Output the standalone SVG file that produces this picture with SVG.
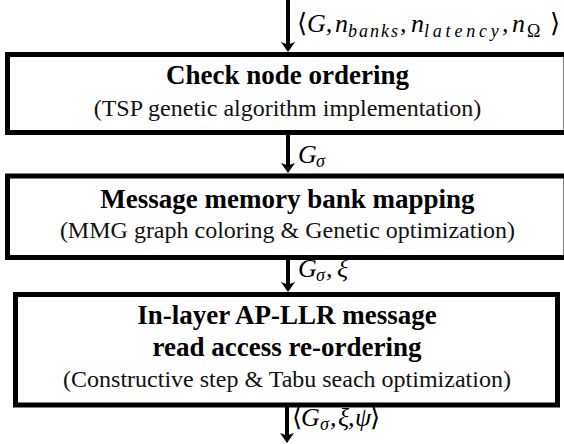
<svg xmlns="http://www.w3.org/2000/svg" width="564" height="444" viewBox="0 0 564 444">
  <style>
    .box { fill: #ffffff; stroke: #000000; stroke-width: 5; }
    .title { font-family: "Liberation Serif", "Times New Roman", "DejaVu Serif", serif; font-size: 27px; font-weight: bold; text-anchor: middle; fill: #000000; }
    .note { font-family: "Liberation Serif", "Times New Roman", "DejaVu Serif", serif; font-size: 24px; text-anchor: middle; fill: #111111; }
    .math { font-family: "Liberation Serif", "DejaVu Serif", serif; font-size: 26px; font-style: italic; fill: #000000; }
    .sub { font-size: 18px; }
    .up { font-style: normal; }
    .flow { stroke: #000000; stroke-width: 4; fill: none; marker-end: url(#arrowhead); }
  </style>
  <defs>
    <marker id="arrowhead" markerUnits="userSpaceOnUse" viewBox="0 0 10 14" refX="4" refY="7" markerWidth="10" markerHeight="14" orient="auto">
      <path d="M0,0 L10,7 L0,14 L2.5,7 Z" fill="#000000"/>
    </marker>
  </defs>

  <rect width="564" height="444" fill="#ffffff"/>

  <!-- connectors -->
  <g id="connectors">
    <line class="flow" x1="288" y1="0" x2="288" y2="46"/>
    <line class="flow" x1="288" y1="134" x2="288" y2="167"/>
    <line class="flow" x1="288" y1="259" x2="288" y2="286"/>
    <line class="flow" x1="287" y1="407" x2="287" y2="437"/>

    <text class="math" y="32"><tspan x="297" class="up">⟨</tspan><tspan x="307">G,</tspan><tspan x="335">n</tspan><tspan x="348" dy="5" class="sub" letter-spacing="2">banks</tspan><tspan x="400" dy="-5">,</tspan><tspan x="411">n</tspan><tspan x="424" dy="5" class="sub" letter-spacing="3.8">latency</tspan><tspan x="502" dy="-5">,</tspan><tspan x="512">n</tspan><tspan x="527" dy="5" class="sub up" font-size="21">Ω</tspan><tspan x="550" dy="-5" class="up">⟩</tspan></text>

    <text class="math" y="163"><tspan x="298">G</tspan><tspan x="316" dy="4" class="sub">σ</tspan></text>

    <text class="math" y="277"><tspan x="298">G</tspan><tspan x="316" dy="4" class="sub">σ</tspan><tspan x="326" dy="-4">,</tspan><tspan x="337">ξ</tspan></text>

    <text class="math" y="426" font-size="24"><tspan x="292" class="up">⟨</tspan><tspan x="301">G</tspan><tspan x="320" dy="4" class="sub" font-size="16">σ</tspan><tspan x="330" dy="-4">,</tspan><tspan x="338">ξ</tspan><tspan x="348">,</tspan><tspan x="355">ψ</tspan><tspan x="370" class="up">⟩</tspan></text>
  </g>

  <!-- step 1 -->
  <g id="check-node-ordering">
    <rect class="box" x="7.5" y="54.5" width="558.5" height="78"/>
    <text class="title" x="287.5" y="84">Check node ordering</text>
    <text class="note" x="287.5" y="116">(TSP genetic algorithm implementation)</text>
  </g>

  <!-- step 2 -->
  <g id="bank-mapping">
    <rect class="box" x="7.5" y="176" width="558.5" height="81.5"/>
    <text class="title" x="287.5" y="208">Message memory bank mapping</text>
    <text class="note" x="287.5" y="238">(MMG graph coloring &amp; Genetic optimization)</text>
  </g>

  <!-- step 3 -->
  <g id="read-reordering">
    <rect class="box" x="15.5" y="294.5" width="542" height="110.5"/>
    <text class="title" x="287" y="324">In-layer AP-LLR message</text>
    <text class="title" x="287" y="356">read access re-ordering</text>
    <text class="note" x="287" y="387">(Constructive step &amp; Tabu seach optimization)</text>
  </g>
</svg>
